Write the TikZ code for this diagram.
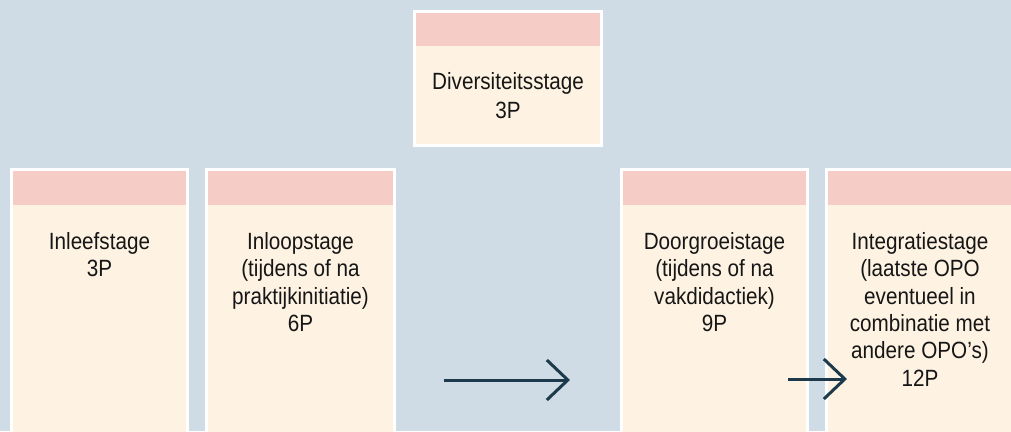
\documentclass[tikz,border=0pt]{standalone}
\usepackage{fontspec}
\setmainfont[FakeStretch=0.88]{Liberation Sans}
\usetikzlibrary{arrows.meta}
\definecolor{bgblue}{HTML}{CFDCE5}
\definecolor{bandpink}{HTML}{F5CCC6}
\definecolor{boxcream}{HTML}{FEF3E3}
\definecolor{txtgray}{HTML}{161616}
\definecolor{arrownavy}{HTML}{1C3A4C}
\tikzset{
  stagebox/.style={fill=boxcream, draw=white, line width=3pt},
  stageband/.style={fill=bandpink},
  stagetext/.style={anchor=north, inner sep=0pt, align=center, text=txtgray,
    font=\fontsize{23.5}{27.4}\selectfont},
  flowarrow/.style={draw=arrownavy, line width=3pt,
    -{Straight Barb[length=21pt,width=40pt]}}
}
\begin{document}
\begin{tikzpicture}[x=1pt,y=-1pt]
\useasboundingbox (0,0) rectangle (1011,431);
\clip (0,0) rectangle (1011,431);
\fill[bgblue] (0,0) rectangle (1011,431);
% top box
\draw[stagebox] (414.5,11.5) rectangle (601.5,145.5);
\fill[stageband] (416,13) rectangle (600,46);
% bottom boxes
\draw[stagebox] (11.5,169.5) rectangle (187.5,450);
\fill[stageband] (13,171) rectangle (186,205);
\draw[stagebox] (206.5,169.5) rectangle (394.5,450);
\fill[stageband] (208,171) rectangle (393,205);
\draw[stagebox] (621.5,169.5) rectangle (807.5,450);
\fill[stageband] (623,171) rectangle (806,205);
\draw[stagebox] (826.5,169.5) rectangle (1013.5,450);
\fill[stageband] (828,171) rectangle (1012,205);
% texts
\node[stagetext, font=\fontsize{23.5}{28.5}\selectfont] (div) at (508,72.5) {Diversiteitsstage\\3P};
\node[stagetext] (inleef) at (99.5,232) {Inleefstage\\3P};
\node[stagetext] (inloop) at (300.5,232) {Inloopstage\\(tijdens of na\\praktijkinitiatie)\\6P};
\node[stagetext] (door) at (714.5,232) {Doorgroeistage\\(tijdens of na\\vakdidactiek)\\9P};
\node[stagetext] (integ) at (920,232) {Integratiestage\\(laatste OPO\\eventueel in\\combinatie met\\andere OPO's)\\12P};
% arrows
\coordinate (a1s) at (444,380);
\coordinate (a1e) at (570,380);
\coordinate (a2s) at (788,379);
\coordinate (a2e) at (847,379);
\draw[flowarrow] (a1s) -- (a1e);
\draw[flowarrow] (a2s) -- (a2e);
\end{tikzpicture}
\end{document}
